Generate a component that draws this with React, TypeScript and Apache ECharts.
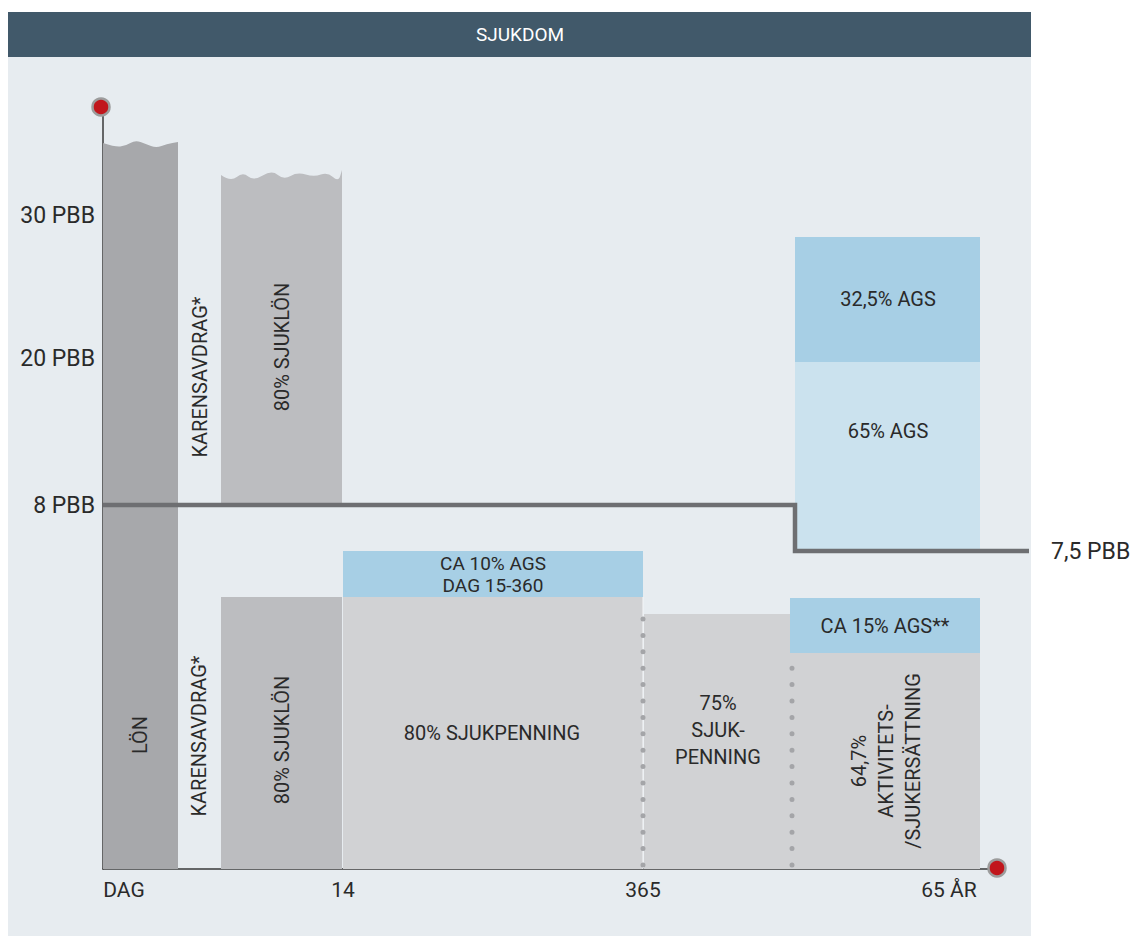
import React, { useEffect, useRef } from "react";
import * as echarts from "echarts";

// Schematic axis: x in diagram units from day 0, y in diagram units from baseline
const xTickValues = [21, 240, 540, 846];
const xTickLabels = ["DAG", "14", "365", "65 ÅR"];
const yTickValues = [364, 511, 654];
const yTickLabels = ["8 PBB", "20 PBB", "30 PBB"];

// blocks: [x0, x1, y0, y1]
const blockValues = [
  [0, 75, 0, 726],
  [118, 239, 0, 272],
  [118, 239, 364, 694],
  [240, 540, 0, 272],
  [240, 540, 272, 318],
  [541, 687, 0, 255],
  [687, 877, 0, 216],
  [687, 877, 216, 271],
  [692, 877, 320, 507],
  [692, 877, 507, 632],
];
const blockKinds = ["lon", "sjuklon", "sjuklon", "sjukpenning", "ags", "sjukpenning", "sjukpenning", "ags", "agsLight", "ags"];
const blockWaves = ["wide", "", "narrow", "", "", "", "", "", "", ""];

// labels: text, x, y, rotated
const labelTexts = [
  "LÖN",
  "KARENSAVDRAG*",
  "KARENSAVDRAG*",
  "80% SJUKLÖN",
  "80% SJUKLÖN",
  "80% SJUKPENNING",
  "CA 10% AGS\nDAG 15-360",
  "75%\nSJUK-\nPENNING",
  "64,7%\nAKTIVITETS-\n/SJUKERSÄTTNING",
  "CA 15% AGS**",
  "65% AGS",
  "32,5% AGS",
];
const labelX = [37, 97, 96, 179, 179, 389, 390, 615, 783, 782, 785, 785];
const labelY = [134, 492, 133, 522, 129, 136, 295, 139, 108, 243, 438, 570];
const labelRotated = [true, true, true, true, true, false, false, false, true, false, false, false];

// ceiling line (8 PBB -> 7,5 PBB)
const ceilingLine = [
  [0, 364],
  [692, 364],
  [692, 318],
  [926, 318],
];
const ceilingLabel = "7,5 PBB";
const ceilingLabelAt = [948, 318];
const dotLineA = [
  [540, 4],
  [540, 266],
];
const dotLineB = [
  [689, 4],
  [689, 213],
];
const axisEnds = [
  [-2, 762],
  [894, 1],
];

const COLORS: Record<string, string> = {
  lon: "#a7a8ab",
  sjuklon: "#bcbdc0",
  sjukpenning: "#d1d2d4",
  ags: "#a7cfe5",
  agsLight: "#cbe2ee",
};

// wave profiles: [fraction of width, dy px]
const WAVES: Record<string, number[][]> = {
  wide: [[0, 0], [0.16, 4], [0.3, 3], [0.43, -3], [0.57, 1], [0.71, 5], [0.85, 1], [1, -1]],
  narrow: [[0, 0], [0.08, 7], [0.18, -3], [0.27, 6], [0.42, -5], [0.52, 5], [0.63, -3], [0.77, 2], [0.88, -3], [0.97, 7], [1, -5]],
};

const FONT = 'Roboto, "DejaVu Sans", sans-serif';
const TEXT = "#2a2a2a";

export default function App() {
  const ref = useRef<HTMLDivElement>(null);
  useEffect(() => {
    if (!ref.current) return;
    const chart = echarts.init(ref.current, undefined, { renderer: "svg" });
    const option: any = {
      animation: false,
      textStyle: { fontFamily: FONT },
      graphic: [
        { type: "rect", z: -100, shape: { x: 8, y: 57, width: 1023, height: 879 }, style: { fill: "#e7ecf0" } },
        { type: "rect", z: -100, shape: { x: 8, y: 12, width: 1023, height: 45 }, style: { fill: "#41596a" } },
        {
          type: "text",
          z: 10,
          x: 520,
          y: 34.5,
          style: { text: "SJUKDOM", fill: "#ffffff", font: `19px ${FONT}`, align: "center", verticalAlign: "middle" },
        },
      ],
      grid: { left: 103, top: 107, width: 894, height: 762, containLabel: false, outerBoundsMode: "none" },
      xAxis: {
        type: "value",
        min: 0,
        max: 894,
        axisLine: { show: true, lineStyle: { color: "#3a3a3a", width: 1.5 } },
        axisTick: { show: false },
        splitLine: { show: false },
        axisLabel: {
          customValues: xTickValues,
          formatter: (v: number) => xTickLabels[xTickValues.indexOf(v)] ?? "",
          color: TEXT,
          fontSize: 21,
          margin: 10,
          fontFamily: FONT,
        },
      },
      yAxis: {
        type: "value",
        min: 0,
        max: 762,
        axisLine: { show: true, lineStyle: { color: "#3a3a3a", width: 1.5 } },
        axisTick: { show: false },
        splitLine: { show: false },
        axisLabel: {
          customValues: yTickValues,
          formatter: (v: number) => yTickLabels[yTickValues.indexOf(v)] ?? "",
          color: TEXT,
          fontSize: 23,
          margin: 8,
          fontFamily: FONT,
        },
      },
      series: [
        {
          type: "custom",
          z: 1,
          clip: false,
          data: blockValues,
          encode: { x: [0, 1], y: [2, 3] },
          renderItem: (params: any, api: any) => {
            const i = params.dataIndex;
            const p0 = api.coord([api.value(0), api.value(2)]);
            const p1 = api.coord([api.value(1), api.value(3)]);
            const fill = COLORS[blockKinds[i]];
            const wave = WAVES[blockWaves[i]];
            const w = p1[0] - p0[0];
            if (!wave) {
              return {
                type: "rect",
                shape: { x: p0[0], y: p1[1], width: w, height: p0[1] - p1[1] },
                style: { fill },
              };
            }
            const pts = wave.map(([f, dy]) => [p0[0] + f * w, p1[1] + dy]);
            let d = `M${p0[0]},${p0[1]} L${pts[0][0]},${pts[0][1]}`;
            for (let k = 1; k < pts.length - 1; k++) {
              const mx = (pts[k][0] + pts[k + 1][0]) / 2;
              const my = (pts[k][1] + pts[k + 1][1]) / 2;
              d += ` Q${pts[k][0]},${pts[k][1]} ${mx},${my}`;
            }
            const last = pts[pts.length - 1];
            d += ` L${last[0]},${last[1]} L${p1[0]},${p0[1]} Z`;
            return { type: "path", shape: { pathData: d }, style: { fill } };
          },
        },
        {
          type: "line",
          z: 3,
          data: [
            [540, 0],
            [540, 272],
          ],
          symbol: "none",
          lineStyle: { color: "#f4f6f8", width: 1 },
          silent: true,
        },
        {
          type: "line",
          z: 4,
          data: dotLineA,
          symbol: "none",
          lineStyle: { color: "#a4a5a8", width: 5, type: [0, 16.4], cap: "round" },
          silent: true,
        },
        {
          type: "line",
          z: 4,
          data: dotLineB,
          symbol: "none",
          lineStyle: { color: "#a4a5a8", width: 5, type: [0, 16.4], cap: "round" },
          silent: true,
        },
        {
          type: "custom",
          z: 5,
          clip: false,
          silent: true,
          data: ceilingLine,
          renderItem: (params: any, api: any) => {
            if (params.dataIndex !== 0) return null;
            const points = ceilingLine.map((p) => api.coord(p));
            const lp = api.coord(ceilingLabelAt);
            return {
              type: "group",
              children: [
                {
                  type: "polyline",
                  shape: { points },
                  style: { stroke: "#6e6f72", lineWidth: 4.5, fill: "none", lineJoin: "miter" },
                },
                {
                  type: "text",
                  x: lp[0],
                  y: lp[1],
                  style: {
                    text: ceilingLabel,
                    fill: TEXT,
                    font: `23px ${FONT}`,
                    align: "left",
                    verticalAlign: "middle",
                  },
                },
              ],
            };
          },
        },
        {
          type: "custom",
          z: 6,
          clip: false,
          data: labelX.map((x, i) => [x, labelY[i]]),
          renderItem: (params: any, api: any) => {
            const i = params.dataIndex;
            const p = api.coord([api.value(0), api.value(1)]);
            const small = labelTexts[i].startsWith("CA 10");
            return {
              type: "text",
              x: p[0],
              y: p[1],
              rotation: labelRotated[i] ? Math.PI / 2 : 0,
              style: {
                text: labelTexts[i],
                fill: TEXT,
                font: `${small ? 19 : 20}px ${FONT}`,
                align: "center",
                verticalAlign: "middle",
                lineHeight: small ? 22 : 27,
              },
            };
          },
        },
        {
          type: "scatter",
          z: 10,
          clip: false,
          data: axisEnds,
          symbol: "circle",
          symbolSize: 17,
          itemStyle: { color: "#c1161c", borderColor: "#9c9c9c", borderWidth: 2.5, opacity: 1 },
          silent: true,
        },
      ],
    };
    chart.setOption(option);
    return () => chart.dispose();
  }, []);
  return <div ref={ref} style={{ position: "absolute", left: 0, top: 0, width: 1132, height: 936 }} />;
}
